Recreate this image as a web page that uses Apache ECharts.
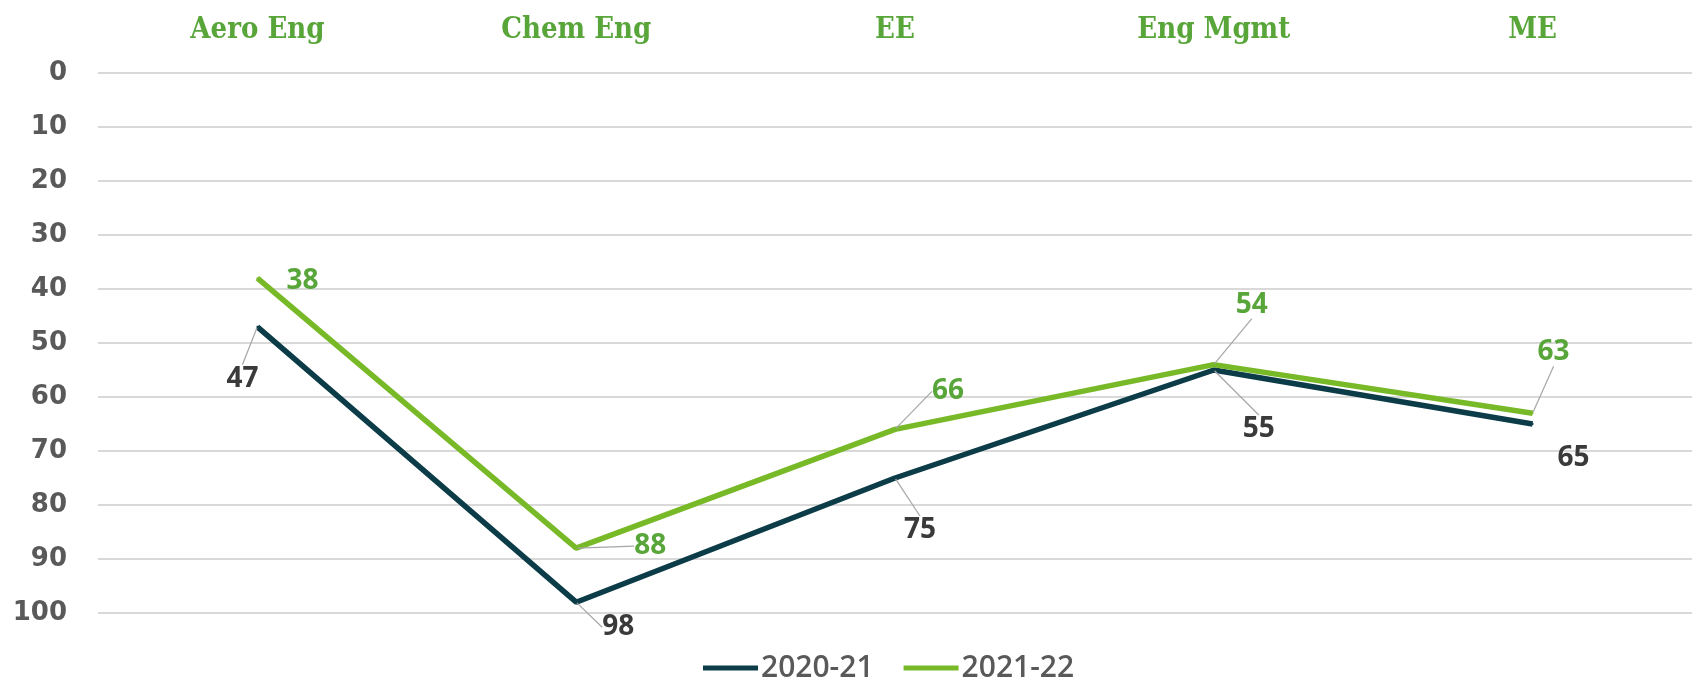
<!DOCTYPE html>
<html>
<head>
<meta charset="utf-8">
<script src="https://cdn.jsdelivr.net/npm/echarts@6/dist/echarts.min.js"></script>
<style>
html,body{margin:0;padding:0;background:#fff;}
#chart{width:1692px;height:680px;}
</style>
</head>
<body>
<div id="chart"></div>
<script>
// ---- data ----
var categories = ['Aero Eng', 'Chem Eng', 'EE', 'Eng Mgmt', 'ME'];
var seriesNames = ['2020-21', '2021-22'];
var values2020 = [47, 98, 75, 55, 65];
var values2021 = [38, 88, 66, 54, 63];
var yTicks = [0, 10, 20, 30, 40, 50, 60, 70, 80, 90, 100];

// ---- label placement (style only) ----
var offsets2020 = [[-15, 52], [42, 25], [25, 52], [45, 59], [41, 34]];
var offsets2021 = [[45, 3], [74, -2], [53, -38], [38, -60], [21, -61]];
var leader2020 = [true, true, true, true, false];
var leader2021 = [false, true, true, true, true];

var darkColor = '#0c3c48';
var greenColor = '#78b928';
var labelFont = '"Open Sans", "Noto Sans", sans-serif';

function buildData(vals, leaders) {
  return vals.map(function (v, i) {
    return { value: v, labelLine: { show: leaders[i] } };
  });
}

var chart = echarts.init(document.getElementById('chart'));
chart.setOption({
  backgroundColor: '#ffffff',
  animation: false,
  grid: { left: 98, right: 0, top: 73, bottom: 67 },
  legend: {
    data: seriesNames,
    left: 698,
    top: 648,
    icon: 'rect',
    itemWidth: 55,
    itemHeight: 5,
    itemGap: 30,
    textStyle: { fontFamily: labelFont, fontSize: 30, fontWeight: 600, color: '#595959', padding: [0, 0, 0, -2] }
  },
  xAxis: {
    type: 'category',
    position: 'top',
    data: categories,
    boundaryGap: true,
    axisLine: { show: false },
    axisTick: { show: false },
    splitLine: { show: false },
    axisLabel: {
      margin: 28,
      fontFamily: '"DejaVu Serif Condensed", "DejaVu Serif", serif',
      fontWeight: 'bold',
      fontSize: 29,
      color: '#58a53a'
    }
  },
  yAxis: {
    type: 'value',
    inverse: true,
    min: yTicks[0],
    max: yTicks[yTicks.length - 1],
    interval: 10,
    axisLine: { show: false },
    axisTick: { show: false },
    splitLine: { lineStyle: { color: '#d9d9d9', width: 2 } },
    axisLabel: {
      margin: 31,
      fontFamily: '"DejaVu Sans", sans-serif',
      fontWeight: 'bold',
      fontSize: 26,
      color: '#595959'
    }
  },
  series: [
    {
      name: seriesNames[0],
      type: 'line',
      data: buildData(values2020, leader2020),
      symbol: 'circle',
      symbolSize: 2,
      color: darkColor,
      lineStyle: { color: darkColor, width: 5.5 },
      itemStyle: { color: darkColor },
      label: {
        show: true,
        position: 'inside',
        fontFamily: labelFont,
        fontWeight: 'bold',
        fontSize: 28,
        color: '#3a3a3a'
      },
      labelLine: { show: true, lineStyle: { color: '#a6a6a6', width: 1.2 } },
      labelLayout: function (p) {
        var o = offsets2020[p.dataIndex];
        return { dx: o[0], dy: o[1] };
      },
      z: 2
    },
    {
      name: seriesNames[1],
      type: 'line',
      data: buildData(values2021, leader2021),
      symbol: 'circle',
      symbolSize: 2,
      color: greenColor,
      lineStyle: { color: greenColor, width: 5.5 },
      itemStyle: { color: greenColor },
      label: {
        show: true,
        position: 'inside',
        fontFamily: labelFont,
        fontWeight: 'bold',
        fontSize: 28,
        color: '#58a53a'
      },
      labelLine: { show: true, lineStyle: { color: '#a6a6a6', width: 1.2 } },
      labelLayout: function (p) {
        var o = offsets2021[p.dataIndex];
        return { dx: o[0], dy: o[1] };
      },
      z: 3
    }
  ]
});
</script>
</body>
</html>
